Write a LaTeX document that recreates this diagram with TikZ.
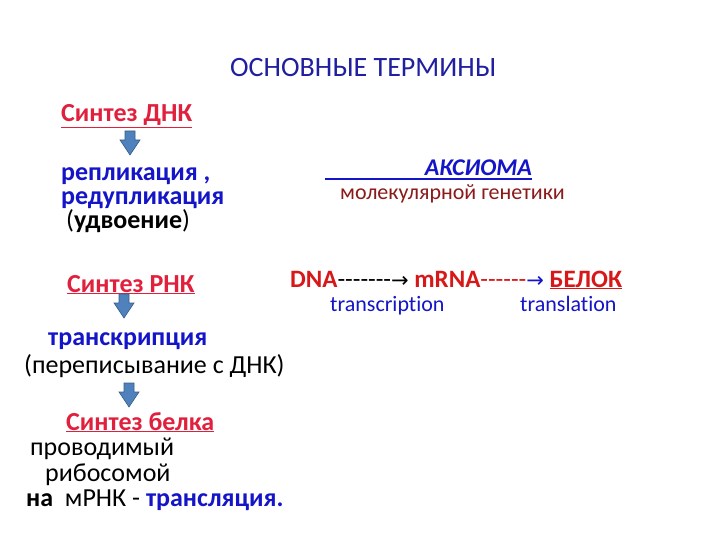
\documentclass[tikz,border=0pt]{standalone}
\usepackage{fontspec}
\setmainfont{Carlito}[Ligatures={TeX,NoCommon}]
\newfontfamily\arrowfont{DejaVu Sans}
\definecolor{ttlblue}{HTML}{1F1FA0}
\definecolor{synred}{HTML}{E0203C}
\definecolor{dogred}{HTML}{D81818}
\definecolor{termblue}{HTML}{1414C8}
\definecolor{darkred}{HTML}{8B1A1A}
\definecolor{arrfill}{HTML}{4F81BD}
\definecolor{arrdraw}{HTML}{385D8A}
\newcommand\myul[1]{\underline{#1}}
\newcommand\rarr{{\arrowfont\fontsize{21}{24}\selectfont →}}
\newcommand\dsh{-{}}
\newcommand\downarr[2]{% name, center-top coordinate
  \path (#2) coordinate (#1);
  \filldraw[fill=arrfill, draw=arrdraw, line width=0.6pt]
    ([xshift=-5pt]#1) -- ([xshift=5pt]#1) -- ([xshift=5pt,yshift=-9pt]#1)
    -- ([xshift=10pt,yshift=-9pt]#1) -- ([yshift=-24pt]#1)
    -- ([xshift=-10pt,yshift=-9pt]#1) -- ([xshift=-5pt,yshift=-9pt]#1) -- cycle;}
\tikzset{
  txt/.style={inner sep=0pt, anchor=base west, font=\fontsize{26}{30}\selectfont},
  synth/.style={txt, text=synred, font=\fontsize{26}{30}\selectfont\bfseries},
  term/.style={txt, text=termblue, font=\fontsize{26}{30}\selectfont\bfseries},
}
\begin{document}
\begin{tikzpicture}[x=1pt,y=-1pt]
\useasboundingbox (0,0) rectangle (720,540);
\fill[white] (0,0) rectangle (720,540);
% title
\node[txt, text=ttlblue, font=\fontsize{28}{32}\selectfont] (title) at (230,77) {ОСНОВНЫЕ ТЕРМИНЫ};
% left column
\node[synth] (sdnk) at (61,122) {\myul{Синтез ДНК}};
\downarr{a1}{130,131}
\node[term] (repl) at (61,181) {репликация ,};
\node[term] (redupl) at (61,205) {редупликация};
\node[txt] (udv) at (66,229) {(\textbf{удвоение})};
\node[synth] (srnk) at (67,292) {\myul{Синтез РНК}};
\downarr{a2}{124,294}
\node[term] (transcr) at (48,345) {транскрипция};
\node[txt] (perep) at (24,373) {(переписывание с ДНК)};
\downarr{a3}{129,383}
\node[synth] (sbel) at (66,430) {\myul{Синтез белка}};
\node[txt] (prov) at (30,455) {проводимый};
\node[txt] (ribo) at (45,481) {рибосомой};
\node[txt] (mrnk) at (26,506) {\textbf{на} \ мРНК - \textcolor{termblue}{\textbf{трансляция.}}};
% right column
\node[txt, text=termblue, font=\fontsize{24}{28}\selectfont\bfseries\itshape, anchor=base east] (aks) at (532,176) {АКСИОМА};
\coordinate (ulstart) at (325,179);
\draw[termblue, line width=1.2pt] (ulstart) -- (aks.base east |- ulstart);
\node[txt, text=darkred, font=\fontsize{22}{26}\selectfont] (molgen) at (340,200) {молекулярной генетики};
\node[txt, font=\fontsize{25}{29}\selectfont] (dogma) at (290,287) {\textcolor{dogred}{\textbf{DNA}}\dsh\dsh\dsh\dsh\dsh\dsh\dsh\rarr\ \textcolor{dogred}{\textbf{mRNA}}\textcolor{dogred}{\dsh\dsh\dsh\dsh\dsh\dsh}\textcolor{termblue}{\rarr}\ \textcolor{dogred}{\textbf{\myul{БЕЛОК}}}};
\node[txt, text=termblue, font=\fontsize{22}{26}\selectfont] (tcr) at (330,311) {transcription};
\node[txt, text=termblue, font=\fontsize{22}{26}\selectfont] (tl) at (520,311) {translation};
\end{tikzpicture}
\end{document}
